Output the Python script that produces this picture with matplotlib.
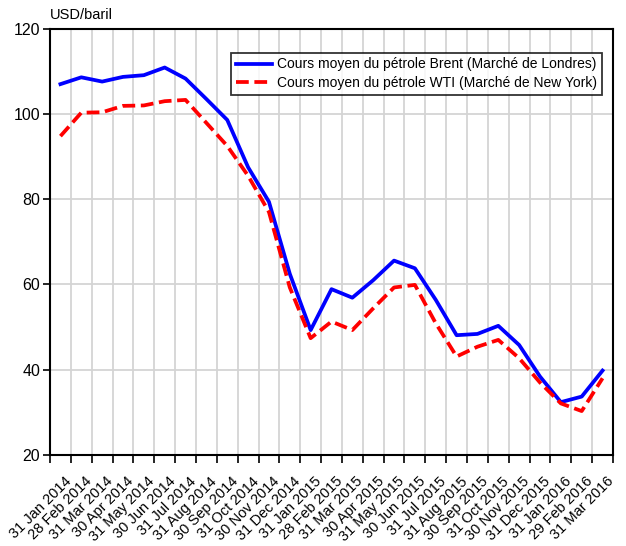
import numpy as np
import matplotlib
matplotlib.use("Agg")
import matplotlib.pyplot as plt
import matplotlib.transforms as mtransforms

plt.rcParams['font.family'] = ['Liberation Sans', 'DejaVu Sans']

# Données mensuelles (USD/baril)
dates = ["31 Jan 2014", "28 Feb 2014", "31 Mar 2014", "30 Apr 2014", "31 May 2014",
         "30 Jun 2014", "31 Jul 2014", "31 Aug 2014", "30 Sep 2014", "31 Oct 2014",
         "30 Nov 2014", "31 Dec 2014", "31 Jan 2015", "28 Feb 2015", "31 Mar 2015",
         "30 Apr 2015", "31 May 2015", "30 Jun 2015", "31 Jul 2015", "31 Aug 2015",
         "30 Sep 2015", "31 Oct 2015", "30 Nov 2015", "31 Dec 2015", "31 Jan 2016",
         "29 Feb 2016", "31 Mar 2016"]
brent = [107.0, 108.6, 107.6, 108.7, 109.1, 110.9, 108.3, 103.5, 98.6, 87.5,
         79.4, 62.5, 49.3, 58.9, 56.9, 61.0, 65.6, 63.8, 56.4, 48.1,
         48.4, 50.3, 45.8, 38.4, 32.4, 33.7, 39.8]
wti = [94.8, 100.3, 100.4, 101.9, 102.0, 103.0, 103.3, 97.9, 92.5, 85.5,
       77.0, 59.3, 47.4, 51.3, 49.3, 54.4, 59.3, 59.9, 50.9, 43.1,
       45.4, 47.0, 42.7, 37.0, 32.1, 30.3, 38.0]
yticks = [20, 40, 60, 80, 100, 120]

x = np.arange(len(dates))

fig = plt.figure(figsize=(6.26, 5.46), dpi=100)
ax = fig.add_axes([0.0799, 0.1667, 0.8993, 0.7807])

# Grille
for v in yticks[1:-1]:
    ax.axhline(v, color='#d4d4d4', lw=1.3, zorder=0)
for b in np.arange(-0.5, len(dates) + 0.5):
    ax.axvline(b, color='#d4d4d4', lw=1.3, zorder=0)

ax.plot(x, brent, color='#0000ff', lw=2.7,
        label='Cours moyen du pétrole Brent (Marché de Londres)')
ax.plot(x, wti, color='#ff0000', lw=2.7, dashes=(3.4, 1.5),
        label='Cours moyen du pétrole WTI (Marché de New York)')

ax.set_xlim(-0.5, len(dates) - 0.5)
ax.set_ylim(20, 120)
ax.set_yticks(yticks)
ax.tick_params(axis='y', labelsize=11.5, length=5, width=1.2, direction='out', pad=2)

# graduations aux limites des mois, étiquettes au centre
ax.set_xticks(np.arange(-0.5, len(dates) + 0.5), minor=True)
ax.set_xticks(x)
ax.set_xticklabels(dates, rotation=45, ha='right', rotation_mode='anchor', fontsize=10.5)
ax.tick_params(axis='x', which='major', length=0, pad=14)
ax.tick_params(axis='x', which='minor', length=6, width=1.2, direction='out')
shift = mtransforms.ScaledTranslation(2.5 / 72, 0, fig.dpi_scale_trans)
for lab in ax.get_xticklabels():
    lab.set_transform(lab.get_transform() + shift)

for s in ax.spines.values():
    s.set_linewidth(1.5)
    s.set_color('black')

ax.text(0.0, 1.015, 'USD/baril', transform=ax.transAxes, fontsize=10.5,
        ha='left', va='bottom')

leg = ax.legend(loc='upper right', bbox_to_anchor=(0.981, 0.944), fontsize=10,
                frameon=True, fancybox=False, handlelength=2.6, handletextpad=0.4,
                borderpad=0.35, labelspacing=0.35, borderaxespad=0)
leg.get_frame().set_edgecolor('black')
leg.get_frame().set_linewidth(1.3)

fig.savefig('out.png', dpi=100)
